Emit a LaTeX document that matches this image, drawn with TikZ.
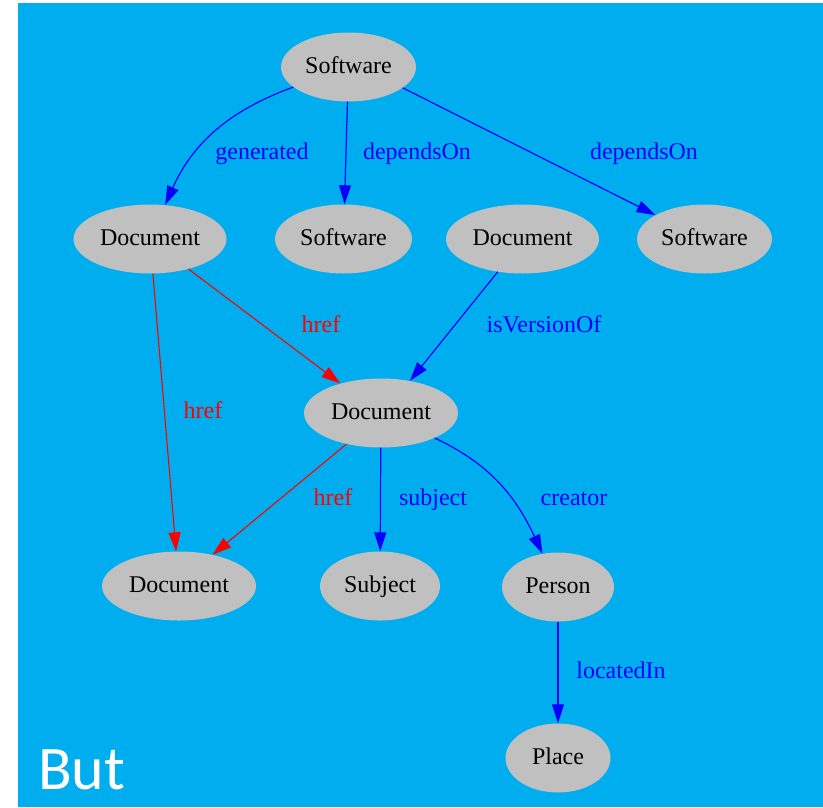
\documentclass[tikz,border=0pt]{standalone}
\usepackage{fontspec}
\setmainfont{Liberation Serif}
\newfontfamily\butfont{Carlito}
\usetikzlibrary{arrows.meta,shapes.geometric}
\definecolor{bgblue}{RGB}{0,174,239}
\definecolor{nodegray}{RGB}{192,192,192}
\definecolor{eblue}{RGB}{0,0,255}
\definecolor{ered}{RGB}{255,0,0}
\begin{document}
\begin{tikzpicture}[x=1pt,y=1pt,
  ent/.style={ellipse, fill=nodegray, draw=none, minimum height=69pt, inner sep=0pt,
    text height=12pt, text depth=0pt, font=\fontsize{24}{28}\selectfont},
  lab/.style={anchor=base, inner sep=0pt, font=\fontsize{24}{28}\selectfont},
  rel/.style={draw=eblue, line width=1.2pt, -{Triangle[length=19pt,width=12pt]}},
  relred/.style={draw=ered, line width=1.1pt, -{Triangle[length=19pt,width=12pt]}}
]
\fill[white] (0,0) rectangle (823,-807);
\fill[bgblue] (18,-3) rectangle (823,-807);
\useasboundingbox (0,0) rectangle (823,-807);

\node[ent, minimum width=135pt] (sw) at (348.5,-67) {Software};
\node[ent, minimum width=153pt] (d1) at (150,-239) {Document};
\node[ent, minimum width=137pt] (sm) at (343.5,-239) {Software};
\node[ent, minimum width=153pt] (dr) at (522.5,-239) {Document};
\node[ent, minimum width=135pt] (sr) at (704.5,-239) {Software};
\node[ent, minimum width=154pt] (dc) at (381,-413) {Document};
\node[ent, minimum width=154pt] (db) at (179,-586) {Document};
\node[ent, minimum width=120pt] (sj) at (380,-586) {Subject};
\node[ent, minimum width=112pt] (pe) at (558,-587) {Person};
\node[ent, minimum width=105pt] (pl) at (558,-758) {Place};

\draw[rel] (sw) to[out=200,in=66] (d1);
\draw[rel] (sw) -- (sm);
\draw[rel] (sw.-21) -- (sr.154);
\draw[relred] (d1.-38) -- (dc.144);
\draw[relred] (d1) -- (db);
\draw[rel] (dr.-127) -- (dc.48);
\draw[relred] (dc.222) -- (db.43);
\draw[rel] (dc) -- (sj);
\draw[rel] (dc) to[out=-25,in=115] (pe);
\draw[rel] (pe) -- (pl);

\node[lab, text=eblue] (lgen) at (262,-159) {generated};
\node[lab, text=eblue] (ldep1) at (417,-159) {dependsOn};
\node[lab, text=eblue] (ldep2) at (644,-159) {dependsOn};
\node[lab, text=ered] (lh1) at (321,-332) {href};
\node[lab, text=eblue] (liv) at (544,-332) {isVersionOf};
\node[lab, text=ered] (lh2) at (203,-418) {href};
\node[lab, text=ered] (lh3) at (333,-505) {href};
\node[lab, text=eblue] (lsub) at (433,-505) {subject};
\node[lab, text=eblue] (lcre) at (574,-505) {creator};
\node[lab, text=eblue] (lloc) at (621,-678) {locatedIn};

\node[text=white, font=\butfont\fontsize{62}{70}\selectfont, anchor=base west, inner sep=0pt] (but) at (38,-789) {But};
\end{tikzpicture}
\end{document}
